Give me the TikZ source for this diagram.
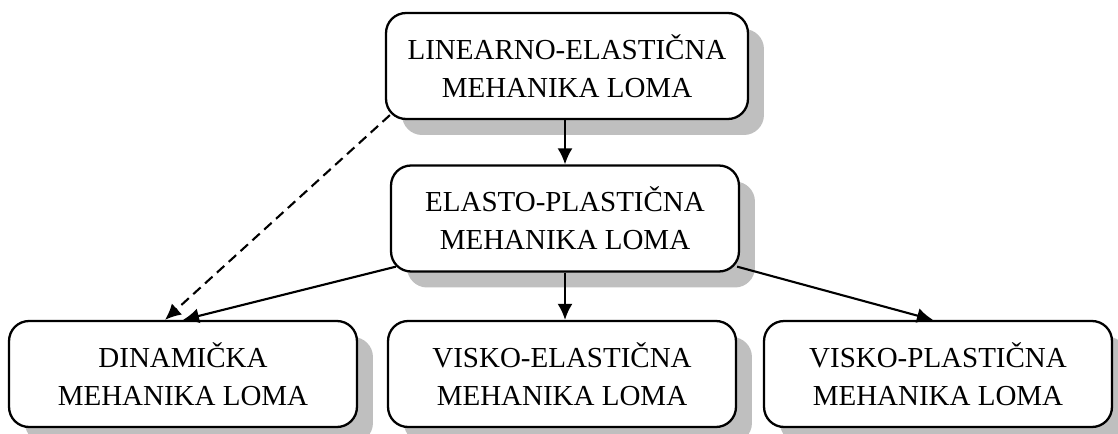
\documentclass[tikz,border=0pt]{standalone}
\usepackage{fontspec}
\setmainfont{Liberation Serif}
\usetikzlibrary{arrows.meta, shadows}

\tikzset{
  kutija/.style={draw, line width=1.3pt, rounded corners=0.4cm, fill=white,
    minimum width=6.96cm, minimum height=2.12cm, align=center,
    font=\fontsize{16.5}{21.6}\selectfont,
    drop shadow={shadow xshift=0.32cm, shadow yshift=-0.32cm, fill=black!25, opacity=1}},
  veza/.style={-{Latex[length=0.32cm,width=0.3cm]}, line width=1.2pt}
}

\begin{document}
\begin{tikzpicture}[x=0.02cm, y=-0.02cm]
\useasboundingbox (0,0) rectangle (1118,433);
\node[kutija, minimum width=7.24cm] (lin) at (567,66) {LINEARNO-ELASTIČNA\\MEHANIKA LOMA};
\node[kutija] (ep) at (565,218.5) {ELASTO-PLASTIČNA\\MEHANIKA LOMA};
\node[kutija] (din) at (183,374) {DINAMIČKA\\MEHANIKA LOMA};
\node[kutija] (ve) at (562,374) {VISKO-ELASTIČNA\\MEHANIKA LOMA};
\node[kutija] (vp) at (938,374) {VISKO-PLASTIČNA\\MEHANIKA LOMA};
% veze
\draw[veza] (lin.south -| ep.north) -- (ep.north);
\draw[veza] (ep.south) -- (ep.south |- ve.north);
\draw[veza] ([xshift=0.12cm,yshift=0.12cm]ep.south west) -- (din.north);
\draw[veza] ([xshift=-0.06cm,yshift=0.12cm]ep.south east) -- ([xshift=-0.1cm]vp.north);
\draw[veza, dash pattern=on 0.2cm off 0.12cm] ([xshift=0.1cm,yshift=0.1cm]lin.south west) -- ([xshift=-0.36cm]din.north);
\end{tikzpicture}
\end{document}
